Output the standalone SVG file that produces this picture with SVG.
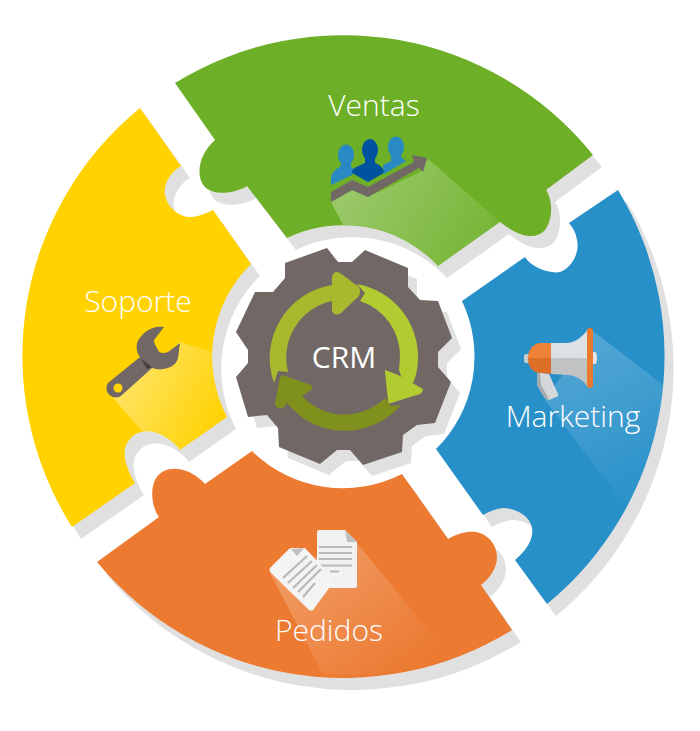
<svg xmlns="http://www.w3.org/2000/svg" xmlns:xlink="http://www.w3.org/1999/xlink" width="700" height="731" viewBox="0 0 700 731">
<style>
.lbl{font-family:"Open Sans","Liberation Sans",sans-serif;font-weight:300;font-size:30px;fill:#fff;text-anchor:middle}
.sh{fill:#e0e0e0}
.ln{stroke:#b9b9b9;stroke-width:2.2;fill:none}
</style>
<defs>
<path id="pVentas" d="M175,83A320,320 0 0 1 593,155L546,190C553,200 553,220 545,230C536,240 520,238 500,222L438,266A130,130 0 0 0 287,238L247,186C236,193 214,197 204,186C196,176 198,155 215,140Z"/>
<path id="pMarketing" d="M618,190A320,320 0 0 1 547,604L515,560C527,550 534,538 532,528C530,515 515,508 503,508C495,509 488,512 483,515L436,449A130,130 0 0 0 462,301L525,257C532,268 550,274 560,272C572,268 580,252 577,240C576,232 572,227 569,223Z"/>
<path id="pPedidos" d="M252,451A130,130 0 0 0 402,474L448,539C458,533 468,531 476,532C488,534 497,545 497,557C497,568 490,578 481,585L512,630A320,320 0 0 1 97,562L159,517C152,508 150,490 155,480C160,470 170,468 178,469C188,470 198,476 205,484Z"/>
<path id="pSoporte" d="M140,108A320,320 0 0 0 72,527L135,483C127,470 122,455 126,445C132,432 145,430 153,432C165,435 175,443 180,450L227,417A130,130 0 0 1 251,264L213,210C207,213 200,216 192,217C182,218 168,210 165,195C163,185 170,172 181,166Z"/>
<path id="pGear" d="M285,263L327,248L338,262L352,262L365,250L408,268L408,287L420,300L438,301L452,338L438,352L438,367L451,382L435,423L417,425L403,435L402,452L363,465L350,450L337,450L320,464L279,447L278,428L267,415L248,417L236,377L248,363L248,350L236,332L255,292L273,292L285,278Z"/>
<linearGradient id="gV" gradientUnits="userSpaceOnUse" x1="350" y1="190" x2="480" y2="270"><stop offset="0" stop-color="#fff" stop-opacity=".3"/><stop offset="1" stop-color="#fff" stop-opacity=".06"/></linearGradient>
<linearGradient id="gM" gradientUnits="userSpaceOnUse" x1="570" y1="345" x2="640" y2="480"><stop offset="0" stop-color="#fff" stop-opacity=".2"/><stop offset="1" stop-color="#fff" stop-opacity=".03"/></linearGradient>
<linearGradient id="gP" gradientUnits="userSpaceOnUse" x1="310" y1="565" x2="400" y2="680"><stop offset="0" stop-color="#fff" stop-opacity=".22"/><stop offset="1" stop-color="#fff" stop-opacity="0"/></linearGradient>
<linearGradient id="gS" gradientUnits="userSpaceOnUse" x1="140" y1="375" x2="225" y2="420"><stop offset="0" stop-color="#fff" stop-opacity=".34"/><stop offset="1" stop-color="#fff" stop-opacity="0"/></linearGradient>
<pattern id="dots" width="4" height="4" patternUnits="userSpaceOnUse"><circle cx="1" cy="1" r=".5" fill="#fff"/></pattern>
<pattern id="gdots" width="3" height="3" patternUnits="userSpaceOnUse"><rect width="3" height="3" fill="#bfc1c1"/><circle cx="1" cy="1" r=".5" fill="#d9dcdd"/></pattern>
</defs>
<rect width="700" height="731" fill="#fff"/>
<g id="shadows" class="sh">
<use xlink:href="#pVentas" href="#pVentas" transform="translate(9,12)"/>
<use xlink:href="#pMarketing" href="#pMarketing" transform="translate(9,12)"/>
<use xlink:href="#pPedidos" href="#pPedidos" transform="translate(9,12)"/>
<use xlink:href="#pSoporte" href="#pSoporte" transform="translate(9,12)"/>
<use xlink:href="#pGear" href="#pGear" transform="translate(9,11)"/>
</g>
<g id="soporte">
<use xlink:href="#pSoporte" href="#pSoporte" fill="#ffd200"/>
<path d="M113,398L180,342L213,352A130,130 0 0 0 227,417L180,450C172,441 158,433 143,432Z" fill="url(#gS)"/>
<path d="M164,327C152,325 141,333 137,343C136,349 137,353 140,357L108,383C105,388 106,394 113,397C117,398 120,397 122,395L152,368C156,369 160,370 163,369C172,368 177,363 178,358L180,343L168,352C163,354 159,353 158,350C156,347 154,343 154,340Z" fill="#716866"/>
<circle cx="118" cy="388" r="4.500" fill="#ffd200"/>
<path d="M141,359L152,367L147,369Z" fill="#443f3e"/>
<text class="lbl" x="138" y="312">Soporte</text>
</g>
<g id="ventas">
<use xlink:href="#pVentas" href="#pVentas" fill="#6db027"/>
<path d="M331,202L352,190L368,197L420,172L427,158L500,222L438,266A130,130 0 0 0 343,225Z" fill="url(#gV)"/>
<ellipse cx="346" cy="155" rx="8" ry="10.500" fill="#2889c4"/>
<path d="M331,185L331,178C332,171 337,169 341,166L341,160L351,160L351,167L356,170L352,175Z" fill="#2889c4"/>
<ellipse cx="396" cy="147" rx="8" ry="10.500" fill="#2889c4"/>
<path d="M384,174L383,165L391,161L391,152L401,152L401,157L406,161Z" fill="#2889c4"/>
<ellipse cx="370" cy="150" rx="8" ry="11" fill="#00539f"/>
<path d="M352,173C352,168 358,166 365,163L365,157L375,157L375,163C380,165 384,168 384,173L368,182Z" fill="#00539f"/>
<path d="M331,192L352,180L368,187L414,162L412,155L427,158L423,172L419,168L368,197L352,190L331,202Z" fill="#716866"/>
<text class="lbl" x="374" y="116">Ventas</text>
</g>
<g id="marketing">
<use xlink:href="#pMarketing" href="#pMarketing" fill="#2790c9"/>
<path d="M593,331L663,385A320,320 0 0 1 628,505L615,492L545,400Z" fill="url(#gM)"/>
<path d="M524,356Q524,354 526,354L529,354L529,363L526,363Q524,363 524,361Z" fill="#c9cdd0"/>
<path d="M537,372L549,374L558,394Q559,397 556,397L549,400Q546,400 544,397L537,385Z" fill="#d5d8da"/>
<path d="M537,372L540,373L541,385L549,399Q546,400 544,397L537,385Z" fill="#a8abad"/>
<path d="M551,343L567,343C575,342 582,338 588,329L588,358L551,358Z" fill="#dce1e4"/>
<path d="M551,358L588,358L588,387C582,379 575,375 567,375L551,374Z" fill="url(#gdots)"/>
<path d="M551,343L541,343C533,343 528,350 528,358L551,358Z" fill="#ef8236"/>
<path d="M528,358C528,367 533,373 541,373L551,374L551,358Z" fill="#dd6e28"/>
<rect x="587" y="328" width="6" height="60" rx="3" fill="#ea7a2f"/>
<path d="M593,352L595,352Q597,352 597,358Q597,364 595,364L593,364Z" fill="#e2e4e5"/>
<text class="lbl" x="573" y="427">Marketing</text>
</g>
<g id="pedidos">
<use xlink:href="#pPedidos" href="#pPedidos" fill="#ec7a31"/>
<path d="M270,573L357,543L450,657A320,320 0 0 1 323,674Z" fill="url(#gP)"/>
<path d="M319,530L345,530L357,542L357,586Q357,588 355,588L319,588Q317,588 317,586L317,532Q317,530 319,530Z" fill="#f1f1f1"/>
<path d="M319,530L345,530L357,542L357,586Q357,588 355,588L319,588Q317,588 317,586L317,532Q317,530 319,530Z" fill="url(#dots)"/>
<path d="M345,530L357,542L347,542Z" fill="#c0c0c0"/>
<path class="ln" d="M319,547H352M319,553H352M319,559H352M319,565.500H352M330,571.500H339"/>
<path d="M270,568L289,549Q290,548 292,548L305,548L335,580L313,610Q311,611 309,610L270,572Q269,570 270,568Z" fill="#f3f3f3"/>
<path d="M270,568L289,549Q290,548 292,548L305,548L335,580L313,610Q311,611 309,610L270,572Q269,570 270,568Z" fill="url(#dots)"/>
<path d="M291,549L304,548L297,556Z" fill="#c0c0c0"/>
<path class="ln" d="M283,578L307,556M288,583L312,561M293,588L317,565M298,592L321,569M303,597L315,583"/>
<text class="lbl" x="329" y="641">Pedidos</text>
</g>
<g id="crm">
<use xlink:href="#pGear" href="#pGear" fill="#716866"/>
<path d="M274,383A74,74 0 0 1 332,285L332,277Q334,270 340,273L359,287Q361,291 359,296L341,313Q335,317 332,311L332,301A58,58 0 0 0 288,372L278,371Z" fill="#a9b92d"/>
<path d="M357,284A74,74 0 0 1 418,358Q418,372 413,383L403,382L399,370L400,358A58,58 0 0 0 360,301L365,293Z" fill="#b2cb30"/>
<path d="M385,370L398,375L423,389Q423,392 420,394L391,403Q388,404 388,400L385,372Z" fill="#b2cb30"/>
<path d="M401,405A74,74 0 0 1 287,403L283,408Q277,410 275,404L280,377Q282,374 285,376L311,385Q313,388 311,390L302,396A58,58 0 0 0 385,398L391,406Z" fill="#80901d"/>
<text x="344" y="368" style="font-family:'Open Sans','Liberation Sans',sans-serif;font-size:30px;fill:#fff;text-anchor:middle">CRM</text>
</g>
</svg>
